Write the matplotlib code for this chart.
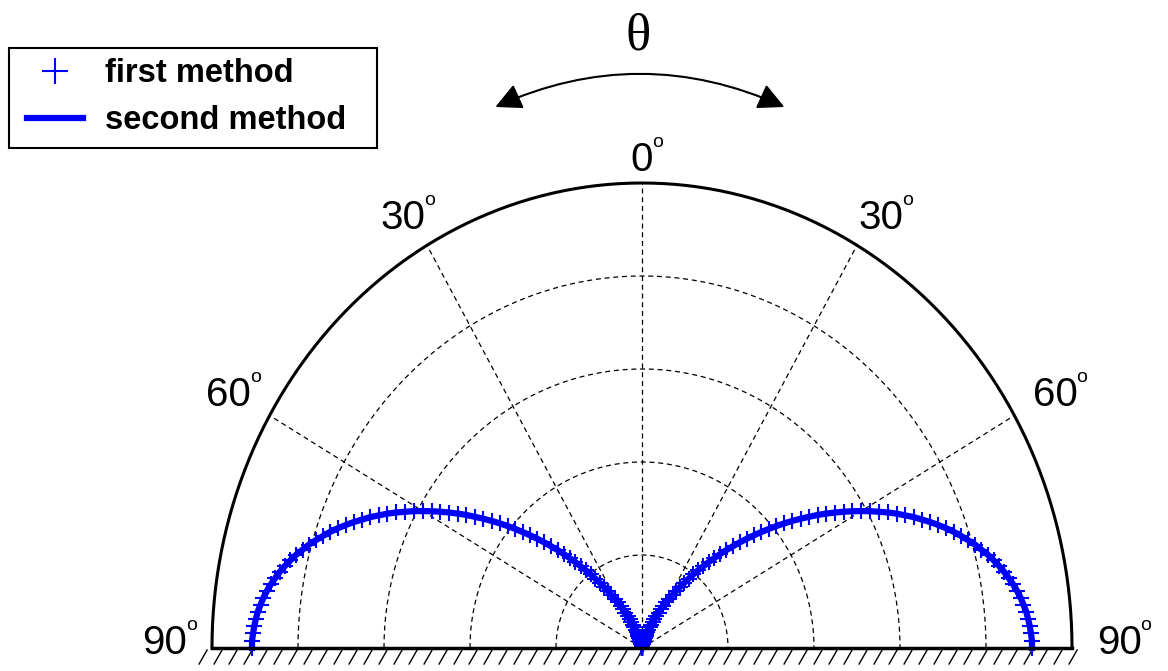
# Directivity of the two methods, MATLAB-style half polar plot
import numpy as np
import matplotlib.pyplot as plt
from matplotlib.patches import FancyArrowPatch, Rectangle

plt.rcParams['font.family'] = ['Liberation Sans', 'DejaVu Sans']

# angle from the vertical (deg), one lobe; the pattern is symmetric
theta_half = np.arange(0, 91, 1)
response_half = [
    0.000, 0.000, 0.000, 0.000, 0.000, 0.001, 0.001, 0.002, 0.002, 0.003,
    0.005, 0.006, 0.008, 0.010, 0.013, 0.016, 0.019, 0.023, 0.027, 0.031,
    0.036, 0.042, 0.048, 0.054, 0.061, 0.068, 0.076, 0.085, 0.094, 0.103,
    0.113, 0.124, 0.135, 0.147, 0.159, 0.171, 0.184, 0.198, 0.212, 0.226,
    0.241, 0.256, 0.272, 0.288, 0.304, 0.321, 0.338, 0.355, 0.372, 0.390,
    0.408, 0.426, 0.444, 0.462, 0.480, 0.499, 0.517, 0.535, 0.553, 0.571,
    0.589, 0.607, 0.624, 0.642, 0.659, 0.675, 0.692, 0.707, 0.723, 0.738,
    0.753, 0.767, 0.780, 0.793, 0.806, 0.817, 0.829, 0.839, 0.849, 0.858,
    0.866, 0.874, 0.881, 0.887, 0.892, 0.897, 0.900, 0.903, 0.905, 0.907,
    0.907,
]
series_labels = ['first method', 'second method']
rings = [0.2, 0.4, 0.6, 0.8]
spokes = [-60, -30, 0, 30, 60]
label_angles = [-90, -60, -30, 0, 30, 60, 90]

# full -90..90 sweep
theta = np.concatenate((-theta_half[::-1], theta_half[1:]))
resp = np.array(response_half)
resp = np.concatenate((resp[::-1], resp[1:]))

def to_xy(r, ang_deg):
    a = np.radians(ang_deg)
    return r*np.sin(a), r*np.cos(a)

fig = plt.figure(figsize=(11.68, 6.71), dpi=100)
ax = fig.add_axes([0, 0, 1, 1])
ax.set_xlim(-642/430, (1168-642)/430)
ax.set_ylim(-23/465, 648/465)
ax.axis('off')

# grid
sweep = np.linspace(-90, 90, 361)
for rr in rings:
    ax.plot(*to_xy(rr, sweep), color='k', lw=0.9, dashes=(4, 3), zorder=1)
for a in spokes:
    ax.plot(*to_xy(np.array([0, 1]), a), color='k', lw=0.9, dashes=(4, 3), zorder=1)
ax.plot(*to_xy(1, sweep), color='k', lw=2.2, zorder=2)

# floor with hatching
ax.plot([-1, 1], [0, 0], color='k', lw=2.5, zorder=4)
for x0 in np.arange(-1.03, 1.0, 15/430):
    ax.plot([x0, x0 + 8/430], [-16/465, -2/465], color='k', lw=1.0, zorder=1)

# data
x, y = to_xy(resp, theta)
ax.plot(x, y, ls='none', marker='+', ms=12, mew=1.5, color='b',
        label=series_labels[0], zorder=3)
ax.plot(x, y, color='b', lw=4.5, label=series_labels[1], zorder=3)

# angle labels (image is slightly stretched vertically)
for a in label_angles:
    ar = np.radians(a)
    lx = 1.11*np.sin(ar)
    ly = 1.08*np.cos(ar) - 0.022 + 0.041*abs(np.sin(ar))
    txt = ax.text(lx, ly, f'{abs(a)}', fontsize=29, ha='center',
                  va='center_baseline', zorder=5)
    ax.annotate('o', xy=(1, 1), xycoords=txt, xytext=(-1, -1),
                textcoords='offset points', fontsize=14, ha='left', va='center')

# theta arrow
ax.text(-0.0093, 1.314, 'θ', fontsize=38, family=['Liberation Serif', 'DejaVu Serif'],
        ha='center', va='center')
arrow = FancyArrowPatch((-0.347, 1.161), (0.337, 1.161),
                        connectionstyle='arc3,rad=-0.23',
                        arrowstyle='<|-|>,head_length=0.8,head_width=0.4',
                        mutation_scale=20, lw=1.5, color='k')
ax.add_patch(arrow)

# legend with a hand-placed frame
fig.patches.append(Rectangle((9/1168, 1 - 148/671), 368/1168, 100/671,
                             transform=fig.transFigure, fill=False,
                             edgecolor='k', lw=1.5))
leg = ax.legend(loc='upper left', bbox_to_anchor=(27/1168, 1 - 58/671),
                bbox_transform=fig.transFigure, borderaxespad=0, borderpad=0,
                frameon=False, prop={'size': 23.5, 'weight': 'bold'},
                markerscale=1.6, handlelength=1.72, handletextpad=0.67,
                labelspacing=0.5)

fig.savefig('out.png', dpi=100)
